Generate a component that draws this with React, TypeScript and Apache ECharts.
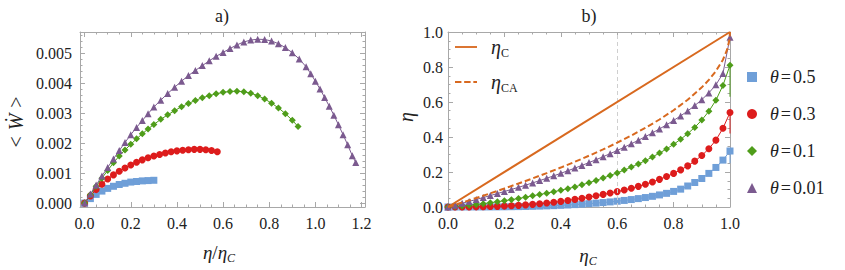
import React, { useEffect, useRef } from 'react';
import * as echarts from 'echarts';

// ---------- names / styles ----------
const THETA_NAMES = ['θ=0.5', 'θ=0.3', 'θ=0.1', 'θ=0.01'];
const COLORS = ['#6f9fd8', '#dd1c1c', '#4f9d1a', '#7b5a8f'];
const SYMBOLS = ['rect', 'circle', 'diamond', 'triangle'];
const ORANGE = '#d8691f';
const FRAME = '#a8a8a8';
const FONT = 'Liberation Serif, DejaVu Serif, serif';

// ---------- panel a) : power vs eta/etaC ----------
const powX05 = [0, 0.025, 0.05, 0.075, 0.1, 0.125, 0.15, 0.175, 0.2, 0.225, 0.25, 0.275, 0.3];
const powY05 = [0, 0.00015, 0.00029, 0.0004, 0.00049, 0.00056, 0.00062, 0.00066, 0.0007, 0.00072, 0.00074, 0.00075, 0.00076];

const powX03 = [0, 0.025, 0.05, 0.075, 0.1, 0.125, 0.15, 0.175, 0.2, 0.225, 0.25, 0.275, 0.3, 0.325, 0.35, 0.375, 0.4, 0.425, 0.45, 0.475, 0.5, 0.525, 0.55, 0.575];
const powY03 = [0, 0.00024, 0.00045, 0.00063, 0.0008, 0.00094, 0.00106, 0.00117, 0.00127, 0.00136, 0.00144, 0.00151, 0.00157, 0.00162, 0.00167, 0.00171, 0.00174, 0.00176, 0.00178, 0.00179, 0.00179, 0.00178, 0.00175, 0.00171];

const powX01 = [0, 0.025, 0.05, 0.075, 0.1, 0.125, 0.15, 0.175, 0.2, 0.225, 0.25, 0.275, 0.3, 0.33, 0.36, 0.39, 0.42, 0.45, 0.48, 0.51, 0.54, 0.57, 0.6, 0.63, 0.66, 0.69, 0.72, 0.75, 0.78, 0.81, 0.84, 0.87, 0.9, 0.925];
const powY01 = [0, 0.00028, 0.00056, 0.00083, 0.00109, 0.00134, 0.00157, 0.00177, 0.00196, 0.00214, 0.00231, 0.00247, 0.00262, 0.00279, 0.00294, 0.00308, 0.00321, 0.00332, 0.00342, 0.00351, 0.00358, 0.00364, 0.00369, 0.00372, 0.00373, 0.00371, 0.00366, 0.00358, 0.00347, 0.00333, 0.00317, 0.00298, 0.00276, 0.00255];

const powX001 = [0, 0.025, 0.05, 0.075, 0.1, 0.125, 0.15, 0.175, 0.2, 0.225, 0.25, 0.275, 0.3, 0.33, 0.36, 0.39, 0.42, 0.45, 0.48, 0.51, 0.54, 0.57, 0.6, 0.63, 0.66, 0.69, 0.72, 0.75, 0.78, 0.81, 0.84, 0.87, 0.9, 0.93, 0.96, 0.98, 1.0, 1.02, 1.04, 1.06, 1.08, 1.1, 1.12, 1.14, 1.16, 1.175];
const powY001 = [0, 0.0003, 0.0006, 0.0009, 0.00119, 0.00147, 0.00175, 0.00202, 0.00228, 0.00252, 0.00275, 0.00298, 0.0032, 0.00343, 0.00365, 0.00386, 0.00406, 0.00425, 0.00442, 0.00458, 0.00474, 0.00489, 0.00502, 0.00515, 0.00527, 0.00537, 0.00543, 0.00546, 0.00545, 0.0054, 0.00531, 0.00518, 0.00501, 0.0048, 0.00454, 0.00431, 0.00406, 0.0038, 0.00352, 0.00323, 0.00293, 0.00261, 0.00228, 0.00194, 0.00158, 0.00135];

// ---------- panel b) : eta vs etaC ----------
const etaC = [0, 0.025, 0.05, 0.075, 0.1, 0.125, 0.15, 0.175, 0.2, 0.225, 0.25, 0.275, 0.3, 0.325, 0.35, 0.375, 0.4, 0.425, 0.45, 0.475, 0.5, 0.525, 0.55, 0.575, 0.6, 0.625, 0.65, 0.675, 0.7, 0.725, 0.75, 0.775, 0.8, 0.825, 0.85, 0.875, 0.9, 0.925, 0.95, 0.975, 1.0];
const eta05 = [0, 0, 0, 0.0001, 0.0002, 0.0003, 0.0005, 0.0008, 0.0012, 0.0017, 0.0023, 0.003, 0.0039, 0.005, 0.0063, 0.0078, 0.0095, 0.0115, 0.0137, 0.0162, 0.019, 0.022, 0.0254, 0.029, 0.033, 0.0375, 0.0425, 0.048, 0.054, 0.061, 0.069, 0.078, 0.089, 0.102, 0.12, 0.14, 0.163, 0.192, 0.226, 0.268, 0.32];
const eta03 = [0, 0.0001, 0.0002, 0.0004, 0.0009, 0.0016, 0.0025, 0.0037, 0.0052, 0.007, 0.0093, 0.012, 0.015, 0.0185, 0.0225, 0.027, 0.032, 0.0375, 0.0435, 0.05, 0.057, 0.064, 0.072, 0.08, 0.088, 0.097, 0.107, 0.118, 0.13, 0.143, 0.158, 0.174, 0.192, 0.212, 0.235, 0.262, 0.294, 0.333, 0.382, 0.45, 0.54];
const eta01 = [0, 0.003, 0.006, 0.01, 0.0145, 0.019, 0.0245, 0.03, 0.036, 0.042, 0.0485, 0.056, 0.064, 0.071, 0.079, 0.087, 0.096, 0.105, 0.115, 0.127, 0.139, 0.152, 0.166, 0.18, 0.195, 0.211, 0.228, 0.246, 0.265, 0.286, 0.308, 0.332, 0.358, 0.387, 0.419, 0.455, 0.497, 0.547, 0.61, 0.695, 0.81];
const eta001 = [0, 0.0105, 0.0212, 0.032, 0.043, 0.054, 0.0653, 0.0768, 0.0885, 0.1003, 0.1124, 0.1248, 0.1376, 0.1508, 0.1643, 0.1782, 0.1925, 0.2072, 0.2223, 0.2378, 0.2538, 0.2703, 0.2873, 0.3049, 0.323, 0.3418, 0.3612, 0.3813, 0.4022, 0.4238, 0.4462, 0.4698, 0.4945, 0.5207, 0.549, 0.5795, 0.6135, 0.652, 0.698, 0.763, 0.97];
// where each theta line ends after dropping along etaC = 1
const lineDrop = [0.25, 0.42, 0.63, 0.97];

const carnotX = [0, 1];
const carnotY = [0, 1];
const caX = [0, 0.05, 0.1, 0.15, 0.2, 0.25, 0.3, 0.35, 0.4, 0.45, 0.5, 0.55, 0.6, 0.65, 0.7, 0.75, 0.8, 0.85, 0.9, 0.925, 0.95, 0.975, 0.99, 0.998, 1];
const caY = [0, 0.0253, 0.0513, 0.078, 0.1056, 0.134, 0.1633, 0.1938, 0.2254, 0.2584, 0.2929, 0.3292, 0.3675, 0.4084, 0.4523, 0.5, 0.5528, 0.6127, 0.6838, 0.7261, 0.7764, 0.8419, 0.9, 0.9553, 1];
const guideX = 0.6;

// ---------- tick labels ----------
const leftXTicks = [0, 0.2, 0.4, 0.6, 0.8, 1.0, 1.2];
const leftYTicks = [0, 0.001, 0.002, 0.003, 0.004, 0.005];
const rightTicks = [0, 0.2, 0.4, 0.6, 0.8, 1.0];

const pairs = (xs: number[], ys: number[]) => xs.map((x, i) => [x, ys[i]]);

function minorTicks(min: number, max: number, step: number, majors: number[]) {
  const out: number[] = [];
  const start = Math.ceil(min / step);
  const end = Math.floor(max / step);
  for (let k = start; k <= end; k++) {
    const v = +(k * step).toFixed(8);
    if (!majors.some((m) => Math.abs(m - v) < step / 10)) out.push(v);
  }
  return out;
}

function axesFor(dim: 'x' | 'y', grid: number, min: number, max: number, majors: number[], minorStep: number, fmt: (v: number) => string, margin: number) {
  const minors = minorTicks(min, max, minorStep, majors);
  const pos = dim === 'x' ? ['bottom', 'top'] : ['left', 'right'];
  const base: any = { type: 'value', gridIndex: grid, min, max, splitLine: { show: false }, minorTick: { show: false } };
  const tick = (vals: number[], len: number) => ({ show: true, inside: true, length: len, customValues: vals, lineStyle: { color: FRAME, width: 1 } });
  return [
    { ...base, position: pos[0], axisLine: { show: true, onZero: false, lineStyle: { color: FRAME, width: 1 } }, axisTick: tick(majors, 5),
      axisLabel: { show: true, customValues: majors, formatter: fmt, margin, color: '#222', fontFamily: FONT, fontSize: 16 } },
    { ...base, position: pos[0], axisLine: { show: false, onZero: false }, axisTick: tick(minors, 2.5), axisLabel: { show: false } },
    { ...base, position: pos[1], axisLine: { show: true, onZero: false, lineStyle: { color: FRAME, width: 1 } }, axisTick: tick(majors, 5), axisLabel: { show: false } },
    { ...base, position: pos[1], axisLine: { show: false, onZero: false }, axisTick: tick(minors, 2.5), axisLabel: { show: false } },
  ];
}

const leftData = [pairs(powX05, powY05), pairs(powX03, powY03), pairs(powX01, powY01), pairs(powX001, powY001)];
const rightData = [eta05, eta03, eta01, eta001];

const SOLID_ICON = 'path://M0,0H24V2H0Z';
const DASH_ICON = 'path://M0,0H7V2H0Z M10,0H17V2H10Z M20,0H24V2H20Z';

function buildOption() {
  const xAxis = [
    ...axesFor('x', 0, -0.02, 1.215, leftXTicks, 0.05, (v) => v.toFixed(1), 8),
    ...axesFor('x', 1, 0, 1, rightTicks, 0.05, (v) => v.toFixed(1), 8),
  ];
  const yAxis = [
    ...axesFor('y', 0, -0.00013, 0.0057, leftYTicks, 0.0002, (v) => v.toFixed(3), 8),
    ...axesFor('y', 1, 0, 1, rightTicks, 0.05, (v) => v.toFixed(1), 5),
  ];

  const series: any[] = [];
  THETA_NAMES.forEach((name, i) => {
    series.push({
      type: 'line', name, xAxisIndex: 0, yAxisIndex: 0, data: leftData[i],
      symbol: SYMBOLS[i], symbolSize: 7, showSymbol: true, showAllSymbol: true,
      lineStyle: { color: COLORS[i], width: 1 }, itemStyle: { color: COLORS[i] }, z: 3 + i,
    });
  });
  THETA_NAMES.forEach((name, i) => {
    const d: any[] = pairs(etaC, rightData[i]);
    d.push({ value: [1, lineDrop[i]], symbol: 'none' });
    series.push({
      type: 'line', name, xAxisIndex: 4, yAxisIndex: 4, data: d,
      symbol: SYMBOLS[i], symbolSize: 7, showSymbol: true, showAllSymbol: true,
      lineStyle: { color: COLORS[i], width: 1 }, itemStyle: { color: COLORS[i] }, z: 3 + i,
    });
  });
  series.push({
    type: 'line', name: 'ηC', xAxisIndex: 4, yAxisIndex: 4, data: pairs(carnotX, carnotY), symbol: 'none',
    lineStyle: { color: ORANGE, width: 2 }, itemStyle: { color: ORANGE }, z: 8,
    markLine: { silent: true, symbol: 'none', label: { show: false }, lineStyle: { type: [4, 3], color: '#cfcfcf', width: 1 }, data: [{ xAxis: guideX }] },
  });
  series.push({
    type: 'line', name: 'ηCA', xAxisIndex: 4, yAxisIndex: 4, data: pairs(caX, caY), symbol: 'none',
    lineStyle: { color: ORANGE, width: 2, type: [6, 3] }, itemStyle: { color: ORANGE }, z: 8,
  });

  const serif = { fontFamily: FONT, color: '#222' };
  return {
    animation: false,
    textStyle: { fontFamily: FONT },
    grid: [
      { left: 80, top: 32, width: 285, height: 175 },
      { left: 448, top: 32, width: 282, height: 175 },
    ],
    xAxis, yAxis, series,
    legend: [
      {
        orient: 'vertical', left: 455, top: 37, padding: 0, itemWidth: 22, itemHeight: 2, itemGap: 13, selectedMode: false,
        data: [{ name: 'ηC', icon: SOLID_ICON }, { name: 'ηCA', icon: DASH_ICON }],
        formatter: (n: string) => (n === 'ηC' ? '{e|η}{s|C}' : '{e|η}{s|CA}'),
        textStyle: { ...serif, fontSize: 19, rich: {
          e: { ...serif, fontSize: 20, fontStyle: 'italic', lineHeight: 24, padding: [0, 0, 0, 9] },
          s: { ...serif, fontSize: 12, lineHeight: 12, verticalAlign: 'bottom' },
        } },
      },
      {
        orient: 'vertical', left: 747, top: 68, padding: 0, itemWidth: 10, itemHeight: 10, itemGap: 19, selectedMode: false,
        data: THETA_NAMES.map((n, i) => ({ name: n, icon: SYMBOLS[i] })),
        formatter: (n: string) => `{g|θ}{q|=}{n|${n.split('=')[1]}}`,
        textStyle: { ...serif, fontSize: 18, rich: {
          g: { ...serif, fontSize: 18, fontStyle: 'italic', lineHeight: 22, padding: [0, 0, 0, 8] },
          q: { ...serif, fontSize: 18, lineHeight: 22, padding: [0, 2, 0, 2] },
          n: { ...serif, fontSize: 18, lineHeight: 22 },
        } },
      },
    ],
    graphic: [
      { type: 'text', x: 222, y: 16, style: { text: 'a)', font: `18px ${FONT}`, fill: '#222', align: 'center', verticalAlign: 'middle' } },
      { type: 'text', x: 589, y: 16, style: { text: 'b)', font: `18px ${FONT}`, fill: '#222', align: 'center', verticalAlign: 'middle' } },
      { type: 'text', x: 219, y: 252, style: {
        text: '{i|η}{r|/}{i|η}{s|C}', align: 'center', verticalAlign: 'middle', fill: '#222',
        rich: { i: { fontFamily: FONT, fontSize: 19, fontStyle: 'italic', lineHeight: 24 }, r: { fontFamily: FONT, fontSize: 19, lineHeight: 24 }, s: { fontFamily: FONT, fontSize: 12, fontStyle: 'italic', lineHeight: 12, verticalAlign: 'bottom' } },
      } },
      { type: 'text', x: 588, y: 255, style: {
        text: '{i|η}{s|C}', align: 'center', verticalAlign: 'middle', fill: '#222',
        rich: { i: { fontFamily: FONT, fontSize: 19, fontStyle: 'italic', lineHeight: 24 }, s: { fontFamily: FONT, fontSize: 12, fontStyle: 'italic', lineHeight: 12, verticalAlign: 'bottom' } },
      } },
      { type: 'text', x: 16, y: 122, rotation: Math.PI / 2, style: {
        text: '{r|<}{i|Ẇ}{r|>}', align: 'center', verticalAlign: 'middle', fill: '#222',
        rich: { r: { fontFamily: FONT, fontSize: 20 }, i: { fontFamily: FONT, fontSize: 20, fontStyle: 'italic', padding: [0, 6, 0, 6] } },
      } },
      { type: 'text', x: 406, y: 117, rotation: Math.PI / 2, style: { text: 'η', font: `italic 20px ${FONT}`, fill: '#222', align: 'center', verticalAlign: 'middle' } },
    ],
  };
}

export default function App() {
  const ref = useRef<HTMLDivElement>(null);
  useEffect(() => {
    const chart = echarts.init(ref.current!, null, { renderer: 'svg' });
    chart.setOption(buildOption() as any);
    return () => chart.dispose();
  }, []);
  return <div ref={ref} style={{ position: 'absolute', left: 0, top: 0, width: 845, height: 270 }} />;
}
